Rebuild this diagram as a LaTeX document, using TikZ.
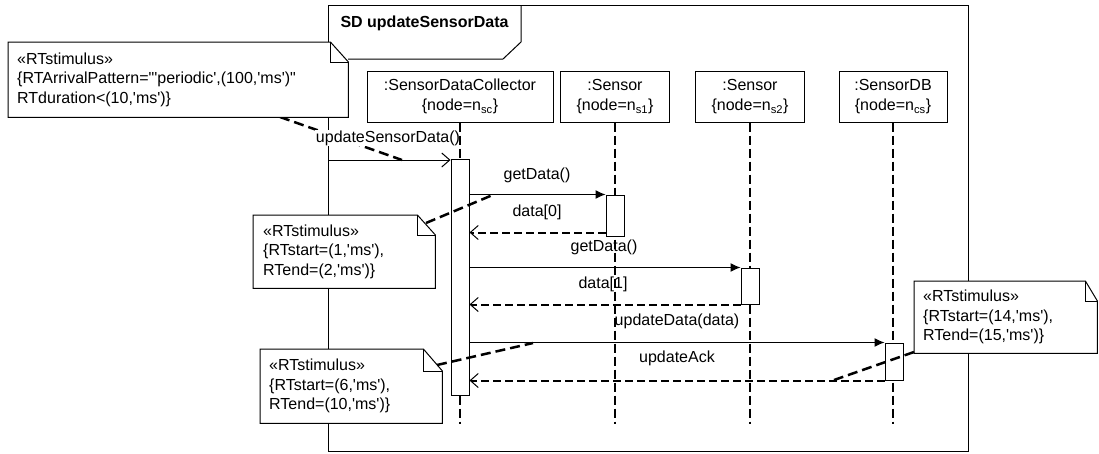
\documentclass[tikz,border=0pt]{standalone}
\usepackage{fontspec}
\newfontfamily\diagfont{Liberation Sans}
\usetikzlibrary{arrows.meta}

% note with a folded top-right corner: #1 node name, #2 fold width, #3 fold height
\newcommand\notefold[3]{%
  \draw[thin line] (#1.north west) -- ([xshift=-#2pt]#1.north east)
    -- ([yshift=-#3pt]#1.north east) -- (#1.south east) -- (#1.south west) -- cycle;
  \draw[thin line] ([xshift=-#2pt]#1.north east) -- ([xshift=-#2pt,yshift=-#3pt]#1.north east)
    -- ([yshift=-#3pt]#1.north east);}

\begin{document}
\begin{tikzpicture}[x=1pt,y=-1pt,
  font=\diagfont\fontsize{16}{20}\selectfont,
  thin line/.style={line width=1pt},
  head/.style={draw, thin line, fill=white, align=center, inner sep=0pt, minimum height=51pt},
  life/.style={line width=2pt, dash pattern=on 9pt off 4pt},
  act/.style={draw, thin line, fill=white, inner sep=0pt, minimum width=18pt},
  call/.style={thin line, -{Latex[length=10pt,width=9pt]}},
  stim/.style={thin line, -{Straight Barb[length=8pt,width=14pt]}},
  reply/.style={line width=2pt, dash pattern=on 8pt off 4pt,
    -{Straight Barb[length=8pt,width=14pt,line width=1pt]}},
  msg/.style={inner sep=1pt},
  note/.style={fill=white, inner xsep=9pt, inner ysep=0pt, align=left, anchor=north west,
    font=\diagfont\fontsize{16}{19.5}\selectfont},
  link/.style={line width=2.5pt, dash pattern=on 10pt off 5pt}]

\useasboundingbox (0,0) rectangle (1099,453);

% frame and title tab
\draw[thin line] (328,5) rectangle (968,451);
\draw[thin line] (328,59) -- (503,59) -- (521,42) -- (521,5);
\node[anchor=west, font=\diagfont\bfseries\fontsize{16}{20}\selectfont] (title) at (337,23) {SD updateSensorData};

% incoming stimulus
\coordinate (gate) at (328,160);
\coordinate (k1) at (280,117);
\coordinate (e1) at (402,160);
\draw[link] (k1) -- (e1);
\node[msg, fill=white] (l0) at (388,138) {updateSensorData()};

% lifeline heads
\node[head, minimum width=186pt] (sdc) at (460,96.5) {:SensorDataCollector\\\{node=n\textsubscript{sc}\}};
\node[head, minimum width=109pt] (s1) at (615,96.5) {:Sensor\\\{node=n\textsubscript{s1}\}};
\node[head, minimum width=109pt] (s2) at (750,96.5) {:Sensor\\\{node=n\textsubscript{s2}\}};
\node[head, minimum width=108pt] (db) at (893,96.5) {:SensorDB\\\{node=n\textsubscript{cs}\}};

% lifelines
\coordinate (bot) at (0,424);
\foreach \h in {sdc,s1,s2,db}
  \draw[life] (\h.south) -- (\h.south |- bot);

% activations
\node[act, minimum height=236pt] (a1) at (460,277) {};
\node[act, minimum height=41pt] (a2) at (615,215.5) {};
\node[act, minimum height=36pt] (a3) at (750,286) {};
\node[act, minimum height=37pt] (a4) at (894,361.5) {};

% messages
\coordinate (r2) at ([yshift=4pt]a2.south west);
\draw[stim] (gate) -- (gate -| a1.west);
\draw[call] (a1.east |- a2.north) -- (a2.north west);
\draw[reply] (r2) -- (r2 -| a1.east);
\draw[call] (a1.east |- a3.north) -- (a3.north west);
\draw[reply] (a3.south west) -- (a1.east |- a3.south);
\draw[call] (a1.east |- a4.north) -- (a4.north west);
\draw[reply] (a4.south west) -- (a1.east |- a4.south);

\node[msg] (l1) at (537,175) {getData()};
\node[msg] (l2) at (537,212) {data[0]};
\node[msg] (l3) at (604,247) {getData()};
\node[msg] (l4) at (603,284) {data[1]};
\node[msg] (l5) at (677,321) {updateData(data)};
\node[msg] (l6) at (677,358) {updateAck};

% timing notes
\node[note, text width=322pt, minimum height=75pt] (n1) at (8,42)
  {«RTstimulus»\\\{RTArrivalPattern="'periodic',(100,'ms')"\\RTduration<(10,'ms')\}};
\notefold{n1}{18}{20}

\node[note, inner xsep=10pt, text width=162pt, minimum height=73pt] (n2) at (253,215)
  {«RTstimulus»\\\{RTstart=(1,'ms'),\\RTend=(2,'ms')\}};
\notefold{n2}{18}{20}

\node[note, text width=164pt, minimum height=74pt] (n3) at (260,349)
  {«RTstimulus»\\\{RTstart=(6,'ms'),\\RTend=(10,'ms')\}};
\notefold{n3}{19}{22}

\node[note, text width=165pt, minimum height=72pt] (n4) at (914,281)
  {«RTstimulus»\\\{RTstart=(14,'ms'),\\RTend=(15,'ms')\}};
\notefold{n4}{12}{20}

% note anchors
\coordinate (k2) at (426,223);
\coordinate (e2) at (495,194);
\coordinate (k3) at (437,365);
\coordinate (e3) at (533,343);
\coordinate (k4) at (914,352);
\coordinate (e4) at (834,380);
\draw[link] (k2) -- (e2);
\draw[link] (k3) -- (e3);
\draw[link] (k4) -- (e4);
\end{tikzpicture}
\end{document}
